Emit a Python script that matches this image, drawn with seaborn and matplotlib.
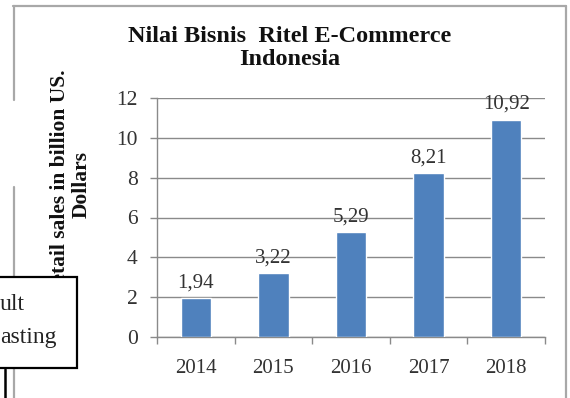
import matplotlib
matplotlib.use("Agg")
import matplotlib.pyplot as plt
import seaborn as sns
import pandas as pd
from matplotlib.lines import Line2D
from matplotlib.patches import Rectangle

years = ["2014", "2015", "2016", "2017", "2018"]
values = [1.94, 3.22, 5.29, 8.21, 10.92]
value_labels = ["1,94", "3,22", "5,29", "8,21", "10,92"]
y_ticks = [0, 2, 4, 6, 8, 10, 12]
title = "Nilai Bisnis  Ritel E-Commerce\nIndonesia"
y_label = "Retail sales in billion US.\nDollars"
box_lines = ["ult", "asting"]

sns.set_style("white")
plt.rcParams["font.family"] = ["Liberation Serif", "DejaVu Serif"]

W, H = 570, 398
fig = plt.figure(figsize=(W / 100, H / 100), dpi=100)

def fx(px):
    return px / W

def fy(py):
    return 1 - py / H

ax = fig.add_axes([fx(157), fy(337), fx(545) - fx(157), fy(98) - fy(337)])
df = pd.DataFrame({"year": years, "value": values})
sns.barplot(data=df, x="year", y="value", color="#4F81BD", saturation=1,
            width=0.39, ax=ax, zorder=3)

grid_c = "#8a8a8a"
ax.set_ylim(0, 12)
ax.set_xlim(-0.5, 4.5)
ax.set_yticks(y_ticks)
ax.set_yticklabels([str(t) for t in y_ticks])
ax.yaxis.grid(True, color=grid_c, linewidth=1.0, zorder=0)
ax.xaxis.grid(False)
for s in ["top", "right"]:
    ax.spines[s].set_visible(False)
for s in ["left", "bottom"]:
    ax.spines[s].set_color(grid_c)
    ax.spines[s].set_linewidth(1.0)
ax.set_xlabel("")
ax.set_ylabel("")
ax.tick_params(axis="y", direction="out", length=5, width=1, color=grid_c,
               pad=9, labelsize=15.5, labelcolor="#333333", left=True)
ax.set_xticks([i - 0.5 for i in range(6)], minor=True)
ax.tick_params(axis="x", which="minor", direction="out", length=5, width=1,
               color=grid_c, bottom=True)
ax.tick_params(axis="x", which="major", length=0, pad=16, labelsize=15,
               labelcolor="#333333")

ax.bar_label(ax.containers[0], labels=value_labels, padding=4, fontsize=15,
             color="#333333")

fig.text(fx(290), fy(48), title, ha="center", va="center", fontsize=17.5,
         fontweight="bold", color="#111111", linespacing=1.18,
         multialignment="center")
fig.text(fx(71), fy(184), y_label, ha="center", va="center", rotation=90,
         fontsize=15.5, fontweight="bold", color="#111111", linespacing=1.15,
         multialignment="center")

frame_c = "#a8a8a8"
for xs, ys in [([13, 566], [6, 6]), ([566, 566], [6, 398]),
               ([14, 14], [6, 100]), ([14, 14], [187, 398])]:
    fig.add_artist(Line2D([fx(x) for x in xs], [fy(y) for y in ys],
                          color=frame_c, linewidth=1.6))

fig.add_artist(Rectangle((fx(-5), fy(368)), fx(77) - fx(-5), fy(277) - fy(368),
                         facecolor="white", edgecolor="black", linewidth=1.6,
                         zorder=10))
fig.add_artist(Line2D([fx(5), fx(5)], [fy(369), fy(398)], color="black",
                      linewidth=1.8, zorder=10))
fig.text(fx(0), fy(305), box_lines[0], ha="left", va="center", fontsize=17,
         color="#222222", zorder=11)
fig.text(fx(0), fy(338), box_lines[1], ha="left", va="center", fontsize=17,
         color="#222222", zorder=11)

fig.savefig("out.png", dpi=100)
